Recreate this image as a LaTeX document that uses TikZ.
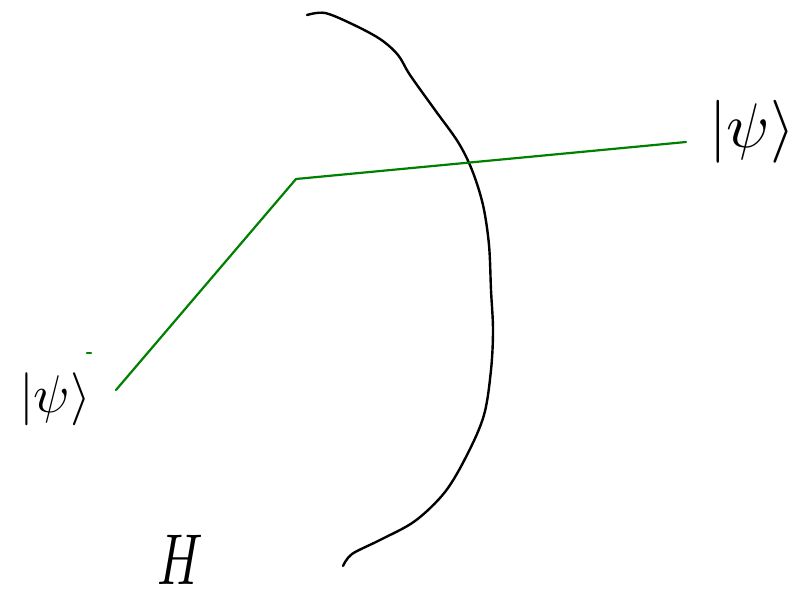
\documentclass[tikz,border=0pt]{standalone}
\usepackage{graphicx}
\definecolor{beamgreen}{RGB}{0,128,0}
\begin{document}
\begin{tikzpicture}[x=1pt,y=-1pt,
  beam/.style={draw=beamgreen,line width=2.2pt,line join=round,line cap=round},
  mirror/.style={draw=black,line width=2.4pt,line cap=round,line join=round},
  lbl/.style={inner sep=0pt,anchor=center}]
\useasboundingbox (0,0) rectangle (807,599);
% mirror / interface curve
\draw[mirror] plot[smooth,tension=0.55] coordinates {(307,15) (325,13) (352,24) (380,39) (398,55) (410,75) (435,110) (458,142) (472,170) (483,205) (489,245) (491,290) (493,330) (491,370) (484,415) (467,455) (445,492) (415,521) (380,540) (352,554) (343,566)};
% beam
\coordinate (a) at (116,390);
\coordinate (b) at (296,179);
\coordinate (c) at (686,142);
\draw[beam] (a) -- (b) -- (c);
\draw[beam] (87,353) -- (91,353);
% labels
\node[lbl] (psiL) at (55,399) {\scalebox{5.3}{$|\psi\rangle$}};
\node[lbl] (psiR) at (752,132) {\scalebox{6.3}{$|\psi\rangle$}};
\node[lbl,anchor=base] (H) at (180,584) {\scalebox{5}[7.2]{$H$}};
\end{tikzpicture}
\end{document}
